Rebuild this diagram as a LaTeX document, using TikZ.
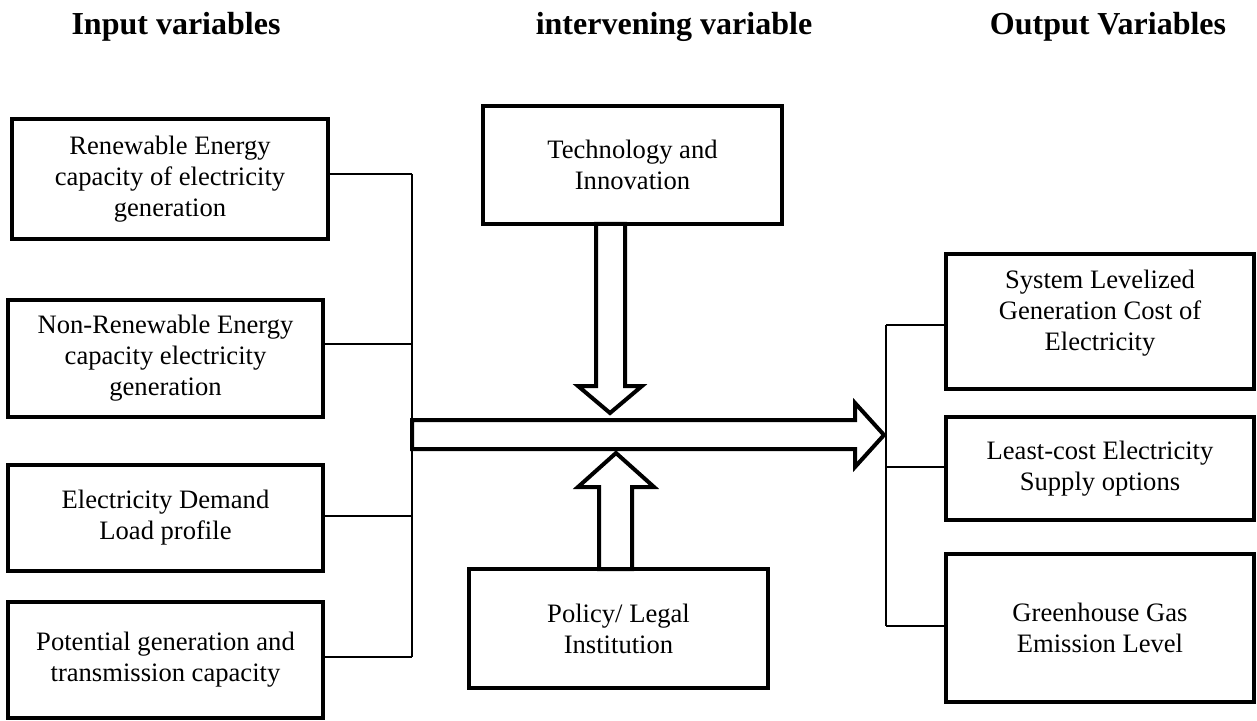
\documentclass[tikz,border=0pt]{standalone}
\usepackage{fontspec}
\setmainfont{Liberation Serif}
\begin{document}
\begin{tikzpicture}[x=0.5pt,y=-0.5pt,
  box/.style={draw,line width=2pt,rectangle,inner sep=0pt,align=center,font=\fontsize{13.3}{15.5}\selectfont},
  txt/.style={inner sep=0pt,align=center,font=\fontsize{13.3}{15.5}\selectfont},
  hdr/.style={inner sep=0pt,anchor=base,font=\fontsize{16}{19}\selectfont\bfseries},
  conn/.style={line width=0.75pt},
  bus/.style={line width=1pt},
  fat/.style={draw,line width=2pt,fill=white,line join=miter,miter limit=10}]
\useasboundingbox (0,0) rectangle (1257,721);

% headers
\node[hdr] (h1) at (176,35) {Input variables};
\node[hdr] (h2) at (674,35) {intervening variable};
\node[hdr] (h3) at (1108,35) {Output Variables};

% fat arrows
\draw[fat] (412,420) -- (855,420) -- (855,403) -- (884,435) -- (855,467) -- (855,449) -- (412,449) -- cycle;
\draw[fat] (596,224) -- (596,386) -- (578,386) -- (610,413) -- (642,386) -- (625,386) -- (625,224) -- cycle;
\draw[fat] (599,569) -- (599,487) -- (578,487) -- (616,453) -- (654,487) -- (632,487) -- (632,569) -- cycle;

% input boxes
\node[box,minimum width=158pt,minimum height=60pt] (L1) at (170,179) {Renewable Energy\\capacity of electricity\\generation};
\node[box,minimum width=157.5pt,minimum height=58.5pt] (L2) at (165.5,358.5) {Non-Renewable Energy\\capacity electricity\\generation};
\node[box,minimum width=157.5pt,minimum height=53pt] (L3) at (165.5,518) {Electricity Demand\\Load profile};
\node[box,minimum width=157.5pt,minimum height=58pt] (L4) at (165.5,660) {Potential generation and\\transmission capacity};

% intervening boxes
\node[box,minimum width=149.5pt,minimum height=59pt] (T) at (632.5,165) {Technology and\\Innovation};
\node[box,minimum width=149.5pt,minimum height=59.5pt] (P) at (618.5,628.5) {Policy/ Legal\\Institution};

% output boxes
\node[box,minimum width=154pt,minimum height=67.5pt] (R1) at (1100,321.5) {};
\node[txt] (R1t) at ([yshift=4.25pt]R1.center) {System Levelized\\Generation Cost of\\Electricity};
\node[box,minimum width=154pt,minimum height=51.5pt] (R2) at (1100,468.5) {Least-cost Electricity\\Supply options};
\node[box,minimum width=154pt,minimum height=74pt] (R3) at (1100,628) {Greenhouse Gas\\Emission Level};

% input bus
\coordinate (b1) at (412,174);
\coordinate (b2) at (412,344);
\coordinate (b3) at (412,516);
\coordinate (b4) at (412,657);
\draw[conn] (L1.east |- b1) -- (b1);
\draw[conn] (L2.east |- b2) -- (b2);
\draw[conn] (L3.east |- b3) -- (b3);
\draw[conn] (L4.east |- b4) -- (b4);
\draw[bus] (b1) -- (b4);

% output bus
\coordinate (c1) at (886,325);
\coordinate (c2) at (886,467);
\coordinate (c3) at (886,626);
\draw[conn] (c1) -- (R1.west |- c1);
\draw[conn] (c2) -- (R2.west |- c2);
\draw[conn] (c3) -- (R3.west |- c3);
\draw[bus] (c1) -- (c3);
\end{tikzpicture}
\end{document}
